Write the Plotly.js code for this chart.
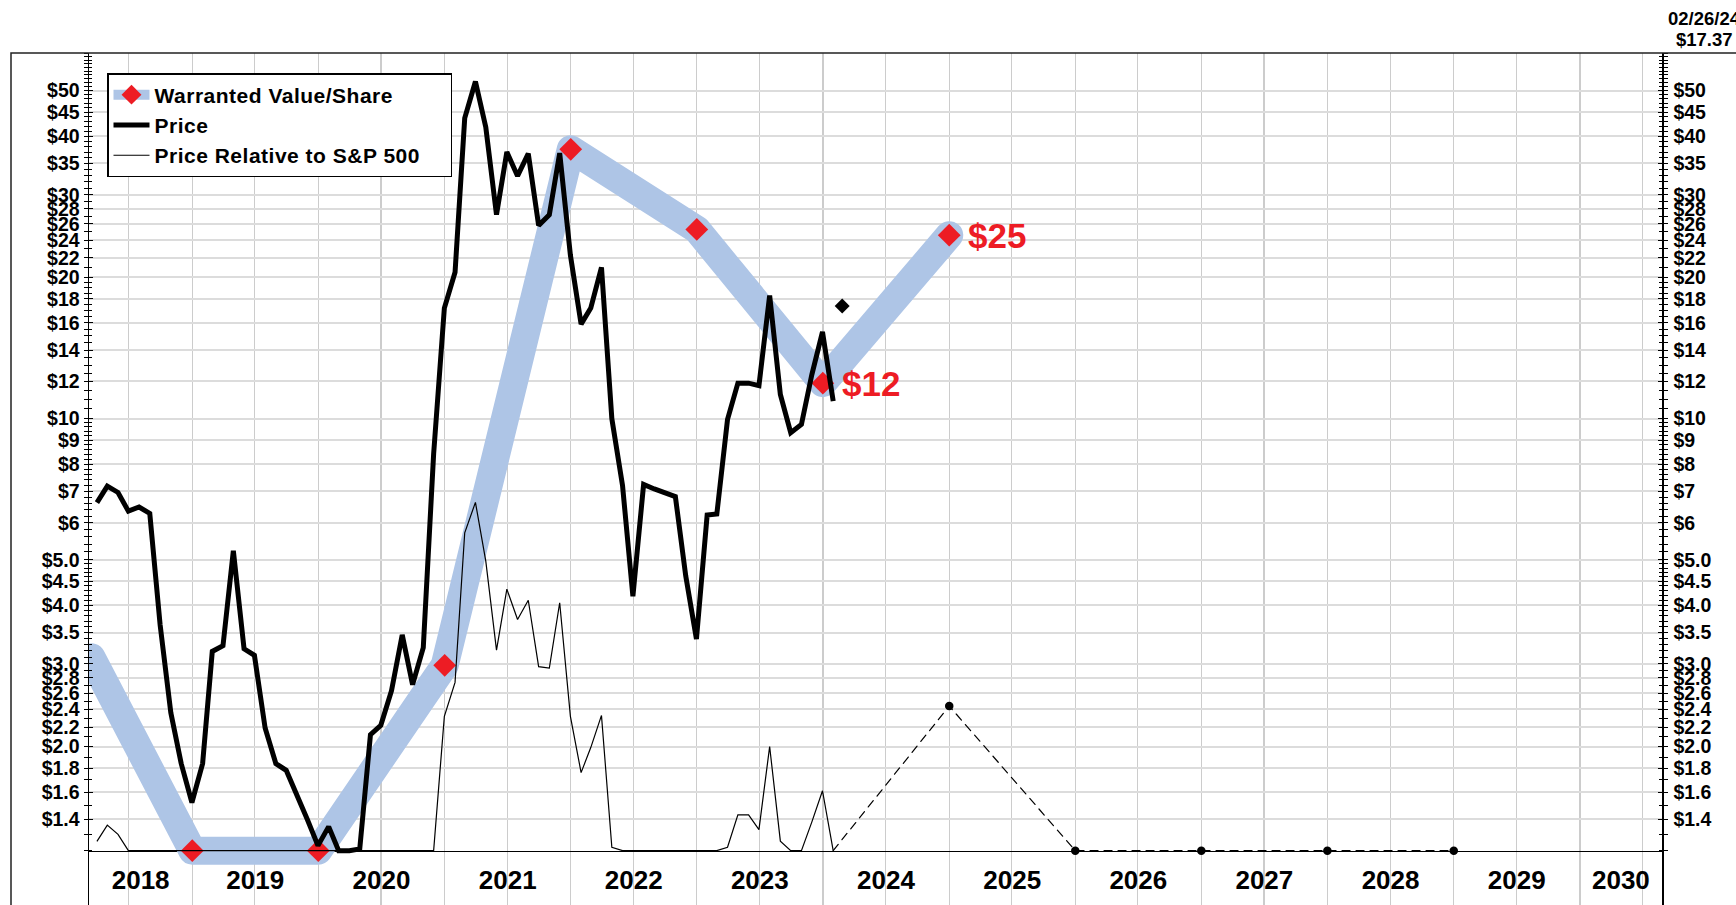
<!DOCTYPE html>
<html>
<head>
<meta charset="utf-8">
<script src="https://cdn.plot.ly/plotly-3.0.1.min.js"></script>
<style>
html,body{margin:0;padding:0;background:#fff;}
#chart{width:1736px;height:905px;}
g.subplot.xy .scatterlayer .trace:first-of-type path.js-line{stroke-linecap:round;stroke-linejoin:round;}
</style>
</head>
<body>
<div id="chart"></div>
<script>
// ---------------- data ----------------
const priceDates = [
'2018-03-31','2018-04-30','2018-05-31','2018-06-30','2018-07-31','2018-08-31','2018-09-30','2018-10-31','2018-11-30','2018-12-31',
'2019-01-31','2019-02-28','2019-03-31','2019-04-30','2019-05-31','2019-06-30','2019-07-31','2019-08-31','2019-09-30','2019-10-31','2019-11-30','2019-12-31',
'2020-01-31','2020-02-29','2020-03-31','2020-04-30','2020-05-31','2020-06-30','2020-07-31','2020-08-31','2020-09-30','2020-10-31','2020-11-30','2020-12-31',
'2021-01-31','2021-02-28','2021-03-31','2021-04-30','2021-05-31','2021-06-30','2021-07-31','2021-08-31','2021-09-30','2021-10-31','2021-11-30','2021-12-31',
'2022-01-31','2022-02-28','2022-03-31','2022-04-30','2022-05-31','2022-06-30','2022-07-31','2022-08-31','2022-09-30','2022-10-31','2022-11-30','2022-12-31',
'2023-01-31','2023-02-28','2023-03-31','2023-04-30','2023-05-31','2023-06-30','2023-07-31','2023-08-31','2023-09-30','2023-10-31','2023-11-30','2023-12-31',
'2024-01-31'];

const priceValues = [
6.62,7.18,6.96,6.35,6.48,6.28,3.63,2.36,1.84,1.52,
1.84,3.19,3.28,5.23,3.23,3.13,2.19,1.84,1.78,1.58,1.40,1.23,
1.35,1.2,1.2,1.21,2.12,2.22,2.63,3.46,2.71,3.25,8.41,17.2,
20.5,43.7,52.3,41.8,27.2,37.0,32.9,36.7,25.8,27.2,36.8,22.3,
15.9,17.2,21.0,10.0,7.2,4.18,7.24,7.08,6.95,6.82,4.62,3.39,
6.23,6.26,9.96,11.9,11.9,11.76,18.3,11.26,9.33,9.72,12.4,15.3,
10.9];

const relativeValues = [
1.256,1.36,1.30,1.2,1.2,1.2,1.2,1.2,1.2,1.2,
1.2,1.2,1.2,1.2,1.2,1.2,1.2,1.2,1.2,1.2,1.2,1.2,
1.2,1.2,1.2,1.2,1.2,1.2,1.2,1.2,1.2,1.2,1.2,2.32,
2.74,5.71,6.63,4.97,3.21,4.33,3.73,4.10,2.96,2.94,4.05,2.32,
1.76,1.99,2.33,1.22,1.2,1.2,1.2,1.2,1.2,1.2,1.2,1.2,
1.2,1.2,1.22,1.43,1.43,1.33,2.00,1.257,1.2,1.2,1.38,1.61,
1.2];

const warrantedDates  = ['2018-03-15','2019-01-01','2020-01-01','2021-01-01','2022-01-01','2023-01-01','2024-01-01','2025-01-01'];
const warrantedValues = [3.1, 1.2, 1.2, 2.98, 37.5, 25.3, 11.9, 24.6];

const projectionDates  = ['2024-01-31','2025-01-01','2026-01-01','2027-01-01','2028-01-01','2029-01-01'];
const projectionValues = [1.2, 2.44, 1.2, 1.2, 1.2, 1.2];

const currentDates  = ['2024-02-26'];
const currentPrices = [17.37];
const currentDateLabel = '02/26/24';

const yearLabels = ['2018','2019','2020','2021','2022','2023','2024','2025','2026','2027','2028','2029','2030'];

const yTickValues = [1.4,1.6,1.8,2.0,2.2,2.4,2.6,2.8,3.0,3.5,4.0,4.5,5.0,6,7,8,9,10,12,14,16,18,20,22,24,26,28,30,35,40,45,50];
const yTickLabels = ['$1.4','$1.6','$1.8','$2.0','$2.2','$2.4','$2.6','$2.8','$3.0','$3.5','$4.0','$4.5','$5.0','$6','$7','$8','$9','$10','$12','$14','$16','$18','$20','$22','$24','$26','$28','$30','$35','$40','$45','$50'];

const seriesNames = ['Warranted Value/Share','Price','Price Relative to S&P 500'];

// ---------------- layout helpers ----------------
const W = 1736, H = 905;
const M = {l: 89, r: 74, t: 53, b: 0};
const plotW = W - M.l - M.r, plotH = H - M.t - M.b;
const pxX = x => (x - M.l) / plotW;
const pxY = y => (H - M.b - y) / plotH;

const xStart = '2018-03-08', xEnd = '2030-08-27';
const yBottom = 0.919, yTop = 60.15, yFloor = 1.2;
const yRange = [Math.log10(yBottom), Math.log10(yTop)];
const xAxisPos = Math.log10(yFloor / yBottom) / (yRange[1] - yRange[0]);

const t0 = Date.parse(xStart + 'T00:00:00Z'), t1 = Date.parse(xEnd + 'T00:00:00Z');
const yearCenters = yearLabels.map(y => {
  const a = Math.max(Date.UTC(+y, 0, 1), t0);
  const b = Math.min(Date.UTC(+y + 1, 0, 1), t1);
  return (a + b) / 2;
});
const halfYears = [];
yearLabels.forEach(y => {
  if (Date.UTC(+y, 0, 1) > t0) halfYears.push(y + '-01-01');
  if (Date.UTC(+y, 6, 1) < t1) halfYears.push(y + '-07-01');
});

const minorVals = [];
for (let v = 1.2; v < 5.0001; v += 0.1) minorVals.push(+v.toFixed(2));
for (let v = 5.2; v < 10.0001; v += 0.2) minorVals.push(+v.toFixed(2));
for (let v = 10.5; v < 20.0001; v += 0.5) minorVals.push(+v.toFixed(2));
for (let v = 21; v <= 60; v += 1) minorVals.push(v);

const FAM = 'Liberation Sans, Arial, Helvetica, sans-serif';
const RED = '#ed1c24', BAND = '#aec5e6';
const legendName = (s, pad) => '<span style="letter-spacing:0.5px">' + s + '\u00a0'.repeat(pad) + '</span>';

// ---------------- traces ----------------
const traces = [
  {
    x: warrantedDates, y: warrantedValues, type: 'scatter', mode: 'lines+markers',
    name: legendName(seriesNames[0], 0), legendrank: 1,
    line: {color: BAND, width: 28},
    marker: {symbol: 'diamond', color: RED, opacity: 1, line: {width: 0},
             size: warrantedDates.map((d, i) => i === 0 ? 0 : 17.5)},
    hoverinfo: 'skip'
  },
  {
    x: priceDates, y: relativeValues, type: 'scatter', mode: 'lines',
    name: legendName(seriesNames[2], 4), legendrank: 3,
    line: {color: '#000', width: 1.2}, hoverinfo: 'skip'
  },
  {
    x: priceDates, y: priceValues, type: 'scatter', mode: 'lines',
    name: legendName(seriesNames[1], 0), legendrank: 2,
    line: {color: '#000', width: 5}, hoverinfo: 'skip'
  },
  {
    x: projectionDates, y: projectionValues, type: 'scatter', mode: 'lines+markers',
    xaxis: 'x2', yaxis: 'y', showlegend: false,
    line: {color: '#000', width: 1.2, dash: '8px,6px'},
    marker: {color: '#000', opacity: 1, line: {width: 0}, size: projectionDates.map((d, i) => i === 0 ? 0 : 8.5)},
    hoverinfo: 'skip'
  },
  {
    x: currentDates, y: currentPrices, type: 'scatter', mode: 'markers',
    xaxis: 'x', yaxis: 'y2', showlegend: false,
    marker: {symbol: 'diamond', color: '#000', size: 11.5, opacity: 1, line: {width: 0}}, hoverinfo: 'skip'
  }
];

const tickFontY = {family: FAM, size: 19.5, color: '#000', weight: 'bold'};

const layout = {
  width: W, height: H,
  margin: M,
  paper_bgcolor: '#fff', plot_bgcolor: '#fff',
  font: {family: FAM, color: '#000'},
  hovermode: false,
  showlegend: true,
  legend: {
    x: pxX(107), y: pxY(73), xanchor: 'left', yanchor: 'top',
    bgcolor: '#fff', bordercolor: '#000', borderwidth: 1.5,
    font: {family: FAM, size: 21, color: '#000', weight: 'bold'},
    itemwidth: 36, tracegroupgap: 0
  },
  xaxis: {
    type: 'date', range: [xStart, xEnd], anchor: 'free', position: xAxisPos,
    showline: true, linecolor: '#000', linewidth: 1.5, layer: 'below traces',
    tickmode: 'array', tickvals: halfYears, showticklabels: false, ticks: '',
    showgrid: true, gridcolor: '#cccccc', gridwidth: 1.4, zeroline: false
  },
  xaxis2: {
    type: 'date', range: [xStart, xEnd], overlaying: 'x', anchor: 'free', position: xAxisPos,
    side: 'bottom', showline: false, showgrid: false, zeroline: false, ticks: '',
    tickmode: 'array', tickvals: yearCenters, ticktext: yearLabels,
    tickfont: {family: FAM, size: 26, color: '#000', weight: 'bold'},
    ticklabelstandoff: 11
  },
  yaxis: {
    type: 'log', range: yRange, side: 'left', anchor: 'x',
    tickmode: 'array', tickvals: yTickValues, ticktext: yTickLabels,
    tickfont: tickFontY, ticklabelstandoff: 0,
    showgrid: true, gridcolor: '#dcdcdc', gridwidth: 2,
    showline: true, linecolor: '#000', linewidth: 1.5, mirror: 'allticks',
    ticks: 'outside', ticklen: 4, tickwidth: 1, tickcolor: '#000',
    minor: {tickmode: 'array', tickvals: minorVals, ticks: 'outside', ticklen: 3, tickwidth: 1, tickcolor: '#000', showgrid: false},
    zeroline: false
  },
  yaxis2: {
    type: 'log', range: yRange, side: 'right', overlaying: 'y', anchor: 'x',
    tickmode: 'array', tickvals: yTickValues, ticktext: yTickLabels,
    tickfont: tickFontY, ticklabelstandoff: 6,
    showgrid: false, showline: true, linecolor: '#000', linewidth: 1.5, mirror: 'allticks',
    ticks: 'inside', ticklen: 4, tickwidth: 1, tickcolor: '#000',
    minor: {tickmode: 'array', tickvals: minorVals, ticks: 'inside', ticklen: 3, tickwidth: 1, tickcolor: '#000', showgrid: false},
    zeroline: false
  },
  shapes: [
    {type: 'rect', xref: 'paper', yref: 'paper', x0: pxX(11), x1: pxX(1780), y0: pxY(960), y1: pxY(53),
     line: {color: '#222', width: 1.5}, fillcolor: 'rgba(0,0,0,0)', layer: 'above'}
  ],
  annotations: [
    {xref: 'x', yref: 'y', x: warrantedDates[6], y: Math.log10(warrantedValues[6]),
     text: '$' + Math.round(warrantedValues[6]), showarrow: false, xanchor: 'left', yanchor: 'middle', xshift: 17,
     font: {family: FAM, size: 35, color: RED, weight: 'bold'}},
    {xref: 'x', yref: 'y', x: warrantedDates[7], y: Math.log10(warrantedValues[7]),
     text: '$' + Math.round(warrantedValues[7]), showarrow: false, xanchor: 'left', yanchor: 'middle', xshift: 17,
     font: {family: FAM, size: 35, color: RED, weight: 'bold'}},
    {xref: 'paper', yref: 'paper', x: pxX(1705), y: pxY(19), text: currentDateLabel, showarrow: false,
     xanchor: 'center', yanchor: 'middle', font: {family: FAM, size: 18.5, color: '#000', weight: 'bold'}},
    {xref: 'paper', yref: 'paper', x: pxX(1705), y: pxY(39), text: '$' + currentPrices[0].toFixed(2), showarrow: false,
     xanchor: 'center', yanchor: 'middle', font: {family: FAM, size: 18.5, color: '#000', weight: 'bold'}}
  ]
};

Plotly.newPlot('chart', traces, layout, {displayModeBar: false, staticPlot: true});
</script>
</body>
</html>
